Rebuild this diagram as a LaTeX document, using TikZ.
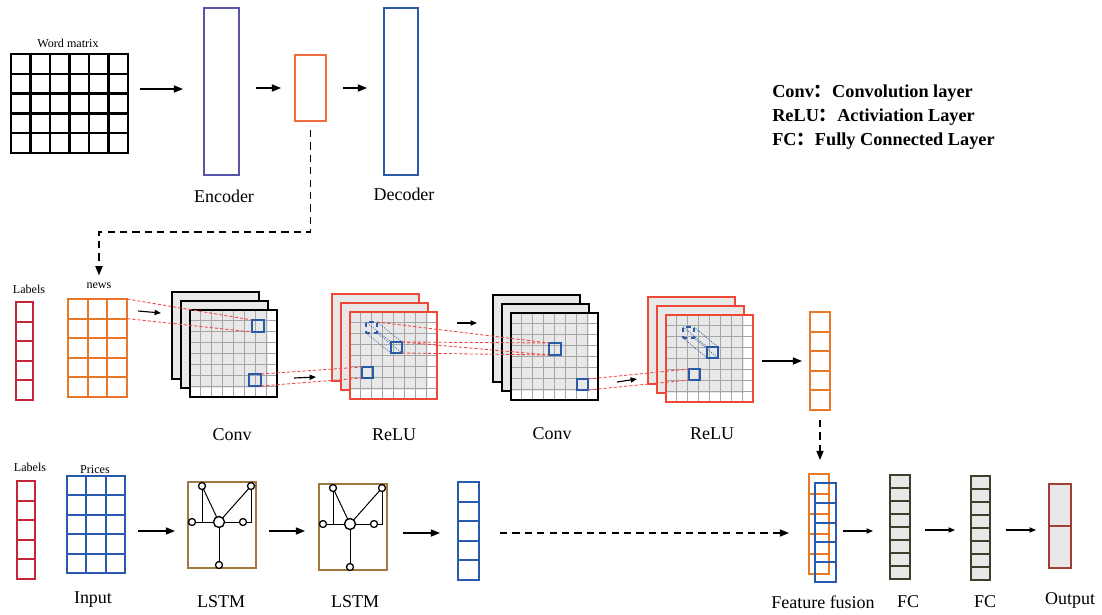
\documentclass[tikz,border=0pt]{standalone}
\usepackage{fontspec}
\setmainfont{Liberation Serif}
\newfontfamily\cjk{Noto Sans CJK SC}
\usetikzlibrary{arrows.meta,calc,positioning}
\newlength\pxu
\setlength\pxu{0.25mm}

\begin{document}
\begin{tikzpicture}[
    x=0.25mm, y=-0.25mm,
    >=latex,
]

\definecolor{encBlue}{RGB}{88, 84, 170}
\definecolor{codeOrange}{RGB}{240, 110, 60}
\definecolor{decBlue}{RGB}{46, 90, 170}
\definecolor{labRed}{RGB}{196, 40, 56}
\definecolor{newsOrange}{RGB}{232, 120, 40}
\definecolor{priceBlue}{RGB}{40, 90, 176}
\definecolor{reluRed}{RGB}{240, 72, 56}
\definecolor{sheetFill}{RGB}{232, 232, 232}
\definecolor{gridGrey}{RGB}{165, 165, 165}
\definecolor{sqBlue}{RGB}{40, 90, 170}
\definecolor{lstmBrown}{RGB}{160, 120, 64}
\definecolor{fcOlive}{RGB}{58, 64, 44}
\definecolor{outRed}{RGB}{160, 64, 52}
\definecolor{lineRed}{RGB}{238, 70, 70}

\tikzset{
    block_node/.style = {rectangle, anchor=north west, inner sep=0pt, outer sep=0pt},
    sheet_node/.style = {rectangle, anchor=north west, minimum width=87\pxu, minimum height=87\pxu,
                         inner sep=0pt, outer sep=0pt, line width=1.1pt},
    front_sheet/.style = {path picture={
        \fill[sheetFill] (path picture bounding box.north west) rectangle ([xshift=-9\pxu, yshift=9\pxu]path picture bounding box.south east);
        \foreach \i in {1,...,7} {
            \draw[gridGrey, line width=0.8pt] ($(path picture bounding box.north west)!\i/8!(path picture bounding box.north east)$) -- ($(path picture bounding box.south west)!\i/8!(path picture bounding box.south east)$);
            \draw[gridGrey, line width=0.8pt] ($(path picture bounding box.north west)!\i/8!(path picture bounding box.south west)$) -- ($(path picture bounding box.north east)!\i/8!(path picture bounding box.south east)$);
        }
    }},
    cell_grid/.style n args={3}{path picture={
        \foreach \i in {1,...,#1}
            \draw[#3] ($(path picture bounding box.north west)!\i/#1!(path picture bounding box.north east)$) -- ($(path picture bounding box.south west)!\i/#1!(path picture bounding box.south east)$);
        \foreach \j in {1,...,#2}
            \draw[#3] ($(path picture bounding box.north west)!\j/#2!(path picture bounding box.south west)$) -- ($(path picture bounding box.north east)!\j/#2!(path picture bounding box.south east)$);
    }},
    sq_node/.style = {rectangle, anchor=north west, minimum width=11\pxu, minimum height=11\pxu,
                      inner sep=0pt, outer sep=0pt, draw=sqBlue, line width=1pt},
    arrow/.style = {line width=0.9pt, -{Triangle[length=2.3mm, width=1.8mm]}},
    small_arrow/.style = {line width=0.8pt, -{Triangle[length=1.6mm, width=1.3mm]}},
    dash_arrow/.style = {line width=0.8pt, dash pattern=on 1.8mm off 1.3mm, -{Triangle[length=2.3mm, width=1.8mm]}},
    red_link/.style = {lineRed, line width=0.6pt, dash pattern=on 0.8mm off 0.5mm},
    big_label/.style = {font=\fontsize{12.8}{15}\selectfont, inner sep=1pt},
    small_label/.style = {font=\fontsize{8.6}{10}\selectfont, inner sep=1pt},
    legend_text/.style = {font=\fontsize{13}{15}\selectfont\bfseries, anchor=base west, inner sep=0pt}
}

\useasboundingbox (0,0) rectangle (1102,614);

% =========== AUTOENCODER ===========
\node[block_node, draw=black, line width=1.6pt, minimum width=117\pxu, minimum height=99\pxu,
      cell_grid={6}{5}{black, line width=1.7pt}] (wm) at (11,54) {};
\node[small_label] (wm_lbl) at (68,43) {Word matrix};

\node[block_node, draw=encBlue, line width=0.9pt, minimum width=35\pxu, minimum height=167\pxu] (enc) at (204,8) {};
\node[big_label] (enc_lbl) at (224,196) {Encoder};

\node[block_node, draw=codeOrange, line width=1pt, minimum width=31\pxu, minimum height=66\pxu] (code) at (295,55) {};

\node[block_node, draw=decBlue, line width=0.9pt, minimum width=34\pxu, minimum height=167\pxu] (dec) at (384,8) {};
\node[big_label] (dec_lbl) at (404,194) {Decoder};

\draw[arrow, shorten <=12\pxu, shorten >=21\pxu] ($(wm.east)+(0,-14.5)$) -- ($(wm.east -| enc.west)+(0,-14.5)$);
\draw[arrow, shorten <=17\pxu, shorten >=14\pxu] (enc.east |- code.west) -- (code.west);
\draw[arrow, shorten <=17\pxu, shorten >=17\pxu] (code.east) -- (code.east -| dec.west);

% legend
\node[legend_text] (leg_conv) at (772,97) {Conv{\cjk ：}Convolution layer};
\node[legend_text] (leg_relu) at (772,121) {ReLU{\cjk ：}Activiation Layer};
\node[legend_text] (leg_fc) at (772,145) {FC{\cjk ：}Fully Connected Layer};

% =========== NEWS BRANCH (CNN) ===========
\node[small_label] (lab1_lbl) at (29,289) {Labels};
\node[block_node, draw=labRed, line width=1.4pt, minimum width=17\pxu, minimum height=98\pxu,
      cell_grid={1}{5}{labRed, line width=1.5pt}] (lab1) at (16,302) {};

\node[small_label] (news_lbl) at (99,286) {news};
\node[block_node, draw=newsOrange, line width=1.4pt, minimum width=59\pxu, minimum height=98\pxu,
      cell_grid={3}{5}{newsOrange, line width=1.5pt}] (news) at (68,299) {};

\draw[dash_arrow, shorten <=9\pxu, shorten >=6\pxu] (code.south) -- ++(0,111) -| (news_lbl.north);

\foreach \nm/\bx/\by/\col in {conv1/172/292/black, relu1/332/294/reluRed, conv2/493/295/black, relu2/648/297/reluRed} {
    \node[sheet_node, draw=\col, fill=sheetFill] (\nm_back) at (\bx,\by) {};
    \node[sheet_node, draw=\col, fill=sheetFill] (\nm_mid) at (\bx+9,\by+9) {};
    \node[sheet_node, draw=\col, fill=white, front_sheet] (\nm) at (\bx+18,\by+18) {};
}

\node[big_label] (conv1_lbl) at (232,435) {Conv};
\node[big_label] (relu1_lbl) at (394,435) {ReLU};
\node[big_label] (conv2_lbl) at (552,434) {Conv};
\node[big_label] (relu2_lbl) at (712,434) {ReLU};

% receptive fields
\node[sq_node, minimum width=12\pxu, minimum height=12\pxu] (u1) at (252,320) {};
\node[sq_node, minimum width=12\pxu, minimum height=12\pxu] (l1) at (249,374) {};
\node[sq_node] (r1low) at (362,367) {};
\node[sq_node] (s1) at (391,342) {};
\node[sq_node, dashed] (d1) at (366,322) {};
\node[sq_node, minimum width=12\pxu, minimum height=12\pxu] (u2) at (549,343) {};
\node[sq_node] (l2) at (577,379) {};
\node[sq_node] (r2low) at (689,369) {};
\node[sq_node] (s2) at (707,347) {};
\node[sq_node, dashed] (d2) at (683,327) {};

\foreach \a in {north west, north east, south east, south west} {
    \draw[sqBlue, line width=0.6pt, densely dotted] (d1.\a) -- (s1.\a);
    \draw[sqBlue, line width=0.6pt, densely dotted] (d2.\a) -- (s2.\a);
}

\draw[red_link] (news.north east) -- (u1.north west);
\draw[red_link] ($(news.north east)!0.2!(news.south east)$) -- (u1.south west);
\draw[red_link] (l1.north east) -- (r1low.north west);
\draw[red_link] (l1.south east) -- (r1low.south west);
\draw[red_link] (d1.north east) -- (u2.north west);
\draw[red_link] (s1.north east) -- (u2.north west);
\draw[red_link] (s1.north east) -- (u2.south west);
\draw[red_link] (s1.south east) -- (u2.south west);
\draw[red_link] (l2.north east) -- (r2low.north west);
\draw[red_link] (l2.south east) -- (r2low.south west);

\draw[small_arrow] ($(news.east)+(11,-37)$) -- ($(conv1_back.west)+(-11,-22.5)$);
\draw[small_arrow] ($(conv1.east)+(17,24.5)$) -- ($(relu1_back.west)+(-16,39.5)$);
\draw[small_arrow] ($(relu1.east)+(20,-32.5)$) -- ($(conv2_back.west)+(-16,-15.5)$);
\draw[small_arrow] ($(conv2.east)+(19,25.5)$) -- ($(relu2_back.west)+(-11,38.5)$);

\node[block_node, draw=newsOrange, line width=1.4pt, minimum width=20\pxu, minimum height=98\pxu,
      cell_grid={1}{5}{newsOrange, line width=1.5pt}] (ocol) at (810,312) {};
\draw[arrow, shorten <=9\pxu, shorten >=8\pxu] (ocol.west -| relu2.east) -- (ocol.west);

% =========== PRICE BRANCH (LSTM) ===========
\node[small_label] (lab2_lbl) at (30,467) {Labels};
\node[block_node, draw=labRed, line width=1.4pt, minimum width=18\pxu, minimum height=98\pxu,
      cell_grid={1}{5}{labRed, line width=1.5pt}] (lab2) at (17,481) {};

\node[small_label] (prices_lbl) at (95,470) {Prices};
\node[block_node, draw=priceBlue, line width=1.4pt, minimum width=58\pxu, minimum height=97\pxu,
      cell_grid={3}{5}{priceBlue, line width=1.5pt}] (prices) at (67,476) {};
\node[big_label] (input_lbl) at (93,600) {Input};

\node[block_node, draw=lstmBrown, line width=1pt, minimum width=68\pxu, minimum height=86\pxu] (lstm1) at (188,482) {};
\node[block_node, draw=lstmBrown, line width=1pt, minimum width=68\pxu, minimum height=86\pxu] (lstm2) at (319,484) {};
\node[big_label] (lstm1_lbl) at (221,602) {LSTM};
\node[big_label] (lstm2_lbl) at (355,602) {LSTM};

\foreach \nm in {lstm1, lstm2} {
    \begin{scope}[shift={(\nm.north west)}, line width=0.7pt]
        \draw (4,40) -- (63,40) -- (63,4);
        \draw (14,4) -- (14,40);
        \draw (14,4) -- (31,40) -- (63,4);
        \draw (31,40) -- (31,83);
        \foreach \cx/\cy in {14/4, 63/4, 4/40, 55/40, 31/83}
            \draw[fill=white, line width=0.9pt] (\cx,\cy) circle[radius=3.5];
        \draw[fill=white, line width=1pt] (31,40) circle[radius=5.5];
    \end{scope}
}

\node[block_node, draw=priceBlue, line width=1.4pt, minimum width=21\pxu, minimum height=98\pxu,
      cell_grid={1}{5}{priceBlue, line width=1.5pt}] (bcol) at (458,482) {};

\draw[arrow, shorten <=13\pxu, shorten >=13\pxu] ($(prices.east)+(0,6.5)$) -- ($(prices.east -| lstm1.west)+(0,6.5)$);
\draw[arrow, shorten <=13\pxu, shorten >=14\pxu] ($(lstm1.east)+(0,6)$) -- ($(lstm1.east -| lstm2.west)+(0,6)$);
\draw[arrow, shorten <=16\pxu, shorten >=18\pxu] ($(lstm2.east)+(0,6)$) -- ($(lstm2.east -| bcol.west)+(0,6)$);

% =========== FUSION AND OUTPUT ===========
\node[block_node, draw=newsOrange, line width=1.4pt, minimum width=20\pxu, minimum height=100\pxu,
      cell_grid={1}{5}{newsOrange, line width=1.5pt}] (fuse_o) at (809,474) {};
\node[block_node, draw=priceBlue, line width=1.4pt, minimum width=21\pxu, minimum height=99\pxu,
      cell_grid={1}{5}{priceBlue, line width=1.5pt}] (fuse_b) at (815,483) {};
\node[big_label] (fuse_lbl) at (823,602) {Feature fusion};

\draw[dash_arrow, shorten <=10\pxu, shorten >=14\pxu] (ocol.south) -- (ocol.south |- fuse_o.north);
\draw[dash_arrow, shorten <=21\pxu, shorten >=20\pxu] ($(bcol.east)+(0,2)$) -- ($(bcol.east -| fuse_o.west)+(0,2)$);

\node[block_node, draw=fcOlive, fill=sheetFill, line width=1.1pt, minimum width=20\pxu, minimum height=104\pxu,
      cell_grid={1}{8}{fcOlive, line width=1.2pt}] (fc1) at (890,475) {};
\node[block_node, draw=fcOlive, fill=sheetFill, line width=1.1pt, minimum width=19\pxu, minimum height=104\pxu,
      cell_grid={1}{8}{fcOlive, line width=1.2pt}] (fc2) at (971,476) {};
\node[big_label] (fc1_lbl) at (908,602) {FC};
\node[big_label] (fc2_lbl) at (985,602) {FC};

\node[block_node, draw=outRed, fill=sheetFill, line width=1.1pt, minimum width=22\pxu, minimum height=84\pxu,
      cell_grid={1}{2}{outRed, line width=1.1pt}] (out) at (1049,484) {};
\node[big_label] (out_lbl) at (1070,600) {Output};

\draw[small_arrow, shorten <=7\pxu, shorten >=17\pxu] ($(fuse_b.east)+(0,-1.5)$) -- ($(fuse_b.east -| fc1.west)+(0,-1.5)$);
\draw[small_arrow, shorten <=15\pxu, shorten >=16\pxu] ($(fc1.east)+(0,3)$) -- ($(fc1.east -| fc2.west)+(0,3)$);
\draw[small_arrow, shorten <=16\pxu, shorten >=13\pxu] ($(fc2.east)+(0,2)$) -- ($(fc2.east -| out.west)+(0,2)$);

\end{tikzpicture}
\end{document}
